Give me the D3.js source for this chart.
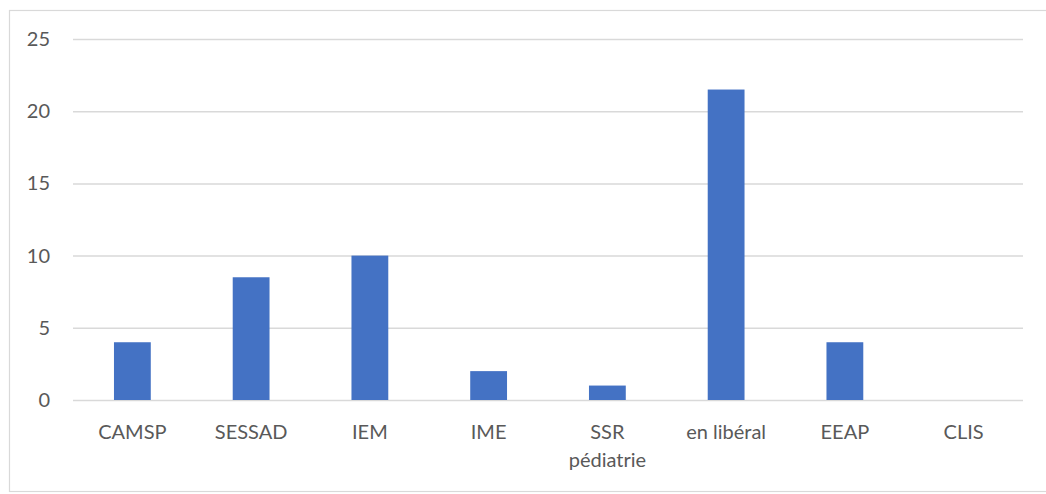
<!DOCTYPE html>
<html>
<head>
<meta charset="utf-8">
<script src="https://cdn.jsdelivr.net/npm/d3@7"></script>
<style>
body{margin:0;background:#fff;}
svg{display:block;}
text{font-family:Lato,"Open Sans",sans-serif;}
</style>
</head>
<body>
<svg id="chart" width="1046" height="494"></svg>
<script>
const categories = ["CAMSP", "SESSAD", "IEM", "IME", "SSR\npédiatrie", "en libéral", "EEAP", "CLIS"];
const values = [4, 8.5, 10, 2, 1, 21.5, 4, 0];
const yTicks = [0, 5, 10, 15, 20, 25];

const svg = d3.select("#chart");
svg.append("rect").attr("x", 9.5).attr("y", 10.5).attr("width", 1040).attr("height", 481)
  .attr("fill", "#fff").attr("stroke", "#d9d9d9").attr("stroke-width", 1.2);

const plotL = 73, plotR = 1023, plotT = 39, plotB = 400;
const x = d3.scaleBand().domain(categories).range([plotL, plotR]).paddingInner(0.69).paddingOuter(0.345);
const y = d3.scaleLinear().domain([0, 25]).range([plotB, plotT]);

const yAxis = d3.axisLeft(y).tickValues(yTicks).tickSize(-(plotR - plotL)).tickPadding(23);
const gy = svg.append("g").attr("transform", `translate(${plotL},0)`).call(yAxis);
gy.select(".domain").remove();
gy.selectAll(".tick line").attr("stroke", "#d9d9d9").attr("stroke-width", 1.5);
gy.selectAll(".tick text").attr("fill", "#595959").attr("font-size", 20);

svg.append("g").selectAll("rect").data(categories).join("rect")
  .attr("x", d => x(d))
  .attr("width", x.bandwidth())
  .attr("y", (d, i) => y(values[i]))
  .attr("height", (d, i) => y(0) - y(values[i]))
  .attr("fill", "#4472c4");

const xAxis = d3.axisBottom(x).tickSize(0).tickPadding(0);
const gx = svg.append("g").attr("transform", `translate(0,${plotB})`).call(xAxis);
gx.select(".domain").remove();
gx.selectAll(".tick text").each(function(d) {
  const t = d3.select(this);
  t.text(null).attr("fill", "#595959").attr("font-size", 20).attr("dy", null).attr("y", 0);
  d.split("\n").forEach((line, i) => {
    t.append("tspan").attr("x", 0).attr("y", 39 + i * 28).text(line);
  });
});
</script>
</body>
</html>
